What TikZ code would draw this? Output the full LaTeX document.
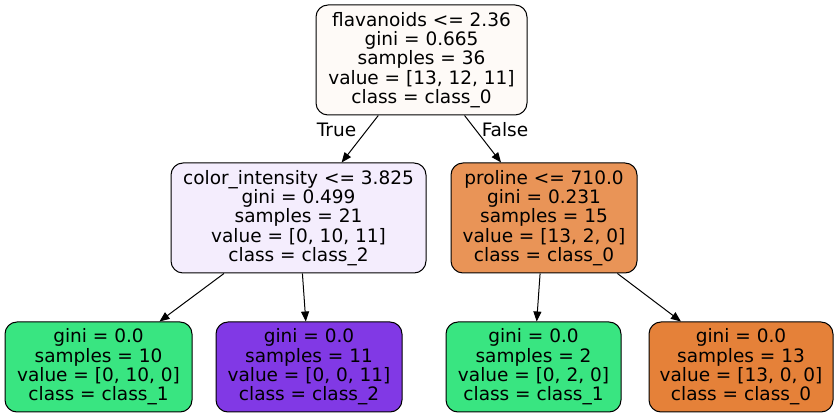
\documentclass[tikz,border=0pt]{standalone}
\usepackage{fontspec}
\setmainfont{DejaVu Sans}
\usetikzlibrary{arrows.meta}
\definecolor{crootc}{HTML}{FEFAF7}
\definecolor{cleftc}{HTML}{F4EDFD}
\definecolor{crightc}{HTML}{E99457}
\definecolor{cone}{HTML}{39E581}
\definecolor{ctwo}{HTML}{8139E5}
\definecolor{czero}{HTML}{E58139}
\tikzset{
  tnode/.style={draw=black, line width=1pt, rounded corners=12pt, align=center, inner sep=0pt,
    font=\fontsize{18.5}{19.4}\selectfont},
  conn/.style={draw=black, line width=1pt, -{Triangle[length=10pt,width=8pt]}},
  elabel/.style={font=\fontsize{18.5}{19.4}\selectfont, inner sep=0pt}
}
\begin{document}
\begin{tikzpicture}[x=1pt,y=-1pt]
\fill[white] (0,0) rectangle (839,419);
\useasboundingbox (0,0) rectangle (839,419);
\node[tnode, fill=crootc, minimum width=211pt, minimum height=110pt] (root) at (421.5,60)
  {flavanoids <= 2.36\\gini = 0.665\\samples = 36\\value = [13, 12, 11]\\class = class\_0};
\node[tnode, fill=cleftc, minimum width=255pt, minimum height=110pt] (left) at (298.5,218)
  {color\_intensity <= 3.825\\gini = 0.499\\samples = 21\\value = [0, 10, 11]\\class = class\_2};
\node[tnode, fill=crightc, minimum width=186pt, minimum height=110pt] (right) at (544,218)
  {proline <= 710.0\\gini = 0.231\\samples = 15\\value = [13, 2, 0]\\class = class\_0};
\node[tnode, fill=cone, minimum width=187pt, minimum height=90pt] (ll) at (98.5,367)
  {gini = 0.0\\samples = 10\\value = [0, 10, 0]\\class = class\_1};
\node[tnode, fill=ctwo, minimum width=186pt, minimum height=90pt] (lr) at (309,367)
  {gini = 0.0\\samples = 11\\value = [0, 0, 11]\\class = class\_2};
\node[tnode, fill=cone, minimum width=175pt, minimum height=90pt] (rl) at (533.5,367)
  {gini = 0.0\\samples = 2\\value = [0, 2, 0]\\class = class\_1};
\node[tnode, fill=czero, minimum width=184pt, minimum height=90pt] (rr) at (741,367)
  {gini = 0.0\\samples = 13\\value = [13, 0, 0]\\class = class\_0};
\draw[conn] (root) -- (left);
\draw[conn] (root) -- (right);
\draw[conn] (left) -- (ll);
\draw[conn] (left) -- (lr);
\draw[conn] (right) -- (rl);
\draw[conn] (right) -- (rr);
\node[elabel] (tlab) at (336.5,130) {True};
\node[elabel] (flab) at (505,130) {False};
\end{tikzpicture}
\end{document}
